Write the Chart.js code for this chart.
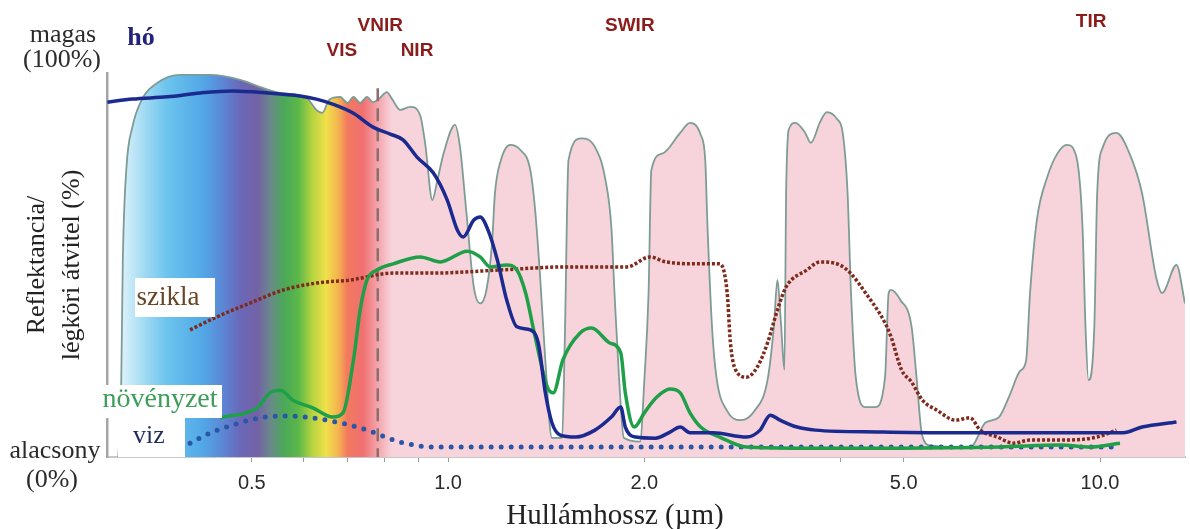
<!DOCTYPE html>
<html>
<head>
<meta charset="utf-8">
<title>Reflektancia és légköri átvitel</title>
<script src="https://cdn.jsdelivr.net/npm/chart.js@4.4.1/dist/chart.umd.min.js"></script>
<style>
    html, body { margin: 0; padding: 0; background: #fff; }
</style>
</head>
<body>
<canvas id="spectrumChart" width="1190" height="529"></canvas>
<script>
// wavelengths in µm, values in % (0 = alacsony, 100 = magas)
var atmWave = [0.312, 0.315, 0.317, 0.321, 0.328, 0.339, 0.358, 0.388, 0.432, 0.48, 0.514, 0.553, 0.607, 0.628, 0.641, 0.657,
    0.683, 0.701, 0.716, 0.733, 0.751, 0.767, 0.786, 0.805, 0.822, 0.844, 0.875, 0.906, 0.922, 0.946, 0.96, 0.984, 1.025,
    1.043, 1.066, 1.095, 1.12, 1.145, 1.168, 1.18, 1.205, 1.245, 1.29, 1.337, 1.36, 1.384, 1.41, 1.443, 1.496, 1.51, 1.53,
    1.6, 1.68, 1.74, 1.78, 1.8, 1.83, 1.86, 1.97, 2.0, 2.03, 2.05, 2.13, 2.27, 2.35, 2.44, 2.48, 2.5, 2.54, 2.58, 2.68,
    2.81, 2.95, 3.09, 3.16, 3.2, 3.24, 3.28, 3.3, 3.33, 3.41, 3.53, 3.6, 3.72, 3.81, 3.95, 4.03, 4.1, 4.15, 4.22, 4.37,
    4.52, 4.68, 4.74, 4.78, 4.94, 5.14, 5.23, 5.33, 5.49, 6.32, 6.67, 7.0, 7.28, 7.54, 7.7, 7.81, 8.0, 8.3, 8.6, 8.9,
    9.2, 9.4, 9.5, 9.6, 9.8, 9.9, 10.1, 10.6, 11.1, 11.6, 12.2, 12.45, 13.1, 13.5];
var atmTrans = [0, 15, 51, 75, 86, 93, 97.4, 99.5, 99.5, 98.2, 96.4, 94.8, 93.5, 90.4, 89.6, 93,
    93.8, 92.2, 93.8, 92.2, 93.8, 92.4, 93.5, 95, 93, 90.4, 91.2, 89, 81.8, 66.9, 71, 79, 86.5,
    80.7, 64.3, 44.3, 40, 43.5, 55.7, 68.7, 77.3, 81.3, 80, 74.7, 64.3, 47, 25, 5, 5, 30, 77.3,
    83, 80.7, 72.9, 59.9, 42.7, 20, 5, 4, 20, 42.7, 74.7, 79, 84.4, 87, 83.9, 77.3, 59.9, 33.9, 20.8, 12,
    9.6, 12, 20, 33.9, 46.1, 35, 22.7, 68.7, 85.2, 87, 84.4, 81.8, 87.2, 89.8, 88, 84.4, 68.7, 42.7, 20.8, 13,
    13, 20.8, 42.7, 43.5, 40.9, 33.9, 20.8, 6, 3, 2.5, 8.9, 10.4, 16.4, 22.4, 25, 42.7, 61.7, 72.9, 79, 81.3,
    78.1, 59.9, 33.9, 20, 33.9, 68.7, 80.7, 84.4, 79, 68.7, 46.6, 42.7, 50, 40];

var snowWave = [0.3, 0.328, 0.371, 0.417, 0.467, 0.528, 0.593, 0.628, 0.665, 0.716, 0.767, 0.815, 0.853, 0.896, 0.949,
    0.997, 1.034, 1.055, 1.095, 1.12, 1.152, 1.19, 1.23, 1.275, 1.337, 1.375, 1.41, 1.443, 1.486, 1.57, 1.68, 1.78,
    1.84, 1.87, 1.94, 2.08, 2.19, 2.27, 2.35, 2.55, 2.87, 3.01, 3.12, 3.23, 3.43, 3.66, 4.6, 5.69, 10.0, 10.85, 11.6, 13.1];
var snowRefl = [92.4, 93.2, 93.8, 94.8, 95.3, 94.8, 94, 93.2, 91.9, 89.5, 85.9, 84.1, 82.6, 78.1, 74,
    66.9, 59, 57.3, 61.7, 62.5, 59, 51.3, 40.9, 33.9, 33.1, 29.7, 16.7, 8.9, 5.7, 5.2, 7, 10.4,
    13, 7.8, 5.2, 4.9, 6.5, 7.8, 6.3, 6.3, 5.2, 7, 10.9, 9.6, 7.8, 7, 6.5, 6.3, 6.3, 6.3, 7.8, 9.1];

var rockWave = [0.402, 0.442, 0.497, 0.559, 0.628, 0.708, 0.824, 0.949, 1.202, 1.51, 1.88, 2.04, 2.16, 2.44, 2.61,
    2.68, 2.71, 2.76, 2.87, 2.98, 3.09, 3.2, 3.3, 3.55, 3.72, 3.99, 4.14, 4.37, 4.68, 4.78, 4.96, 5.14, 5.34, 5.62,
    6.0, 6.32, 6.55, 6.96, 7.36, 7.81, 8.8, 9.9, 10.6];
var rockRefl = [33.1, 36.5, 40.1, 43.5, 45.3, 46.1, 47.9, 47.9, 48.7, 49.5, 49.5, 52.1, 50.8, 50.3, 50.3,
    42.7, 29.9, 22.7, 20.8, 23.4, 29.7, 38.3, 44.3, 48.7, 50.8, 50, 47.9, 42.7, 34.9, 31.3, 22.7, 19.5, 14.8, 12.2,
    9.6, 10.2, 7, 5.2, 3.6, 4.4, 4.4, 5.2, 7];

var vegWave = [0.447, 0.511, 0.533, 0.553, 0.578, 0.62, 0.665, 0.69, 0.716, 0.733, 0.751, 0.778, 0.824, 0.906, 0.973,
    1.07, 1.12, 1.16, 1.23, 1.275, 1.315, 1.36, 1.42, 1.45, 1.5, 1.594, 1.66, 1.77, 1.84, 1.87, 1.93, 2.0, 2.09,
    2.19, 2.27, 2.35, 2.44, 2.61, 2.87, 3.47, 4.94, 7.03, 8.7, 9.66, 10.73];
var vegRefl = [10.2, 13, 16.7, 17.4, 14.8, 12.8, 10.4, 11.5, 25.3, 38.3, 46.1, 48.7, 50.3, 52.1, 50.8,
    53.6, 52.1, 49.5, 50, 48.7, 42.7, 31.3, 18.2, 16.7, 25.3, 32.3, 33.6, 29.7, 27.1, 16.7, 7.8, 11.5, 15.6,
    17.7, 16.7, 11.5, 7.8, 5.2, 2.6, 2.3, 2.3, 2.6, 3.1, 2.6, 3.6];

var waterWave = [0.402, 0.432, 0.467, 0.514, 0.566, 0.62, 0.683, 0.751, 0.844, 0.949, 1.2, 2.44, 4.94, 10.7];
var waterRefl = [3.6, 6.3, 8.3, 10.2, 10.7, 10.2, 8.9, 7, 3.9, 2.6, 2.6, 2.6, 2.6, 2.6];

var tickMarks = [0.5, 0.6, 0.7, 0.8, 0.9, 1, 2, 4, 5, 10];
var tickLabels = [0.5, 1, 2, 5, 10];
var visNirBoundary = 0.78;

var bandLabels = [
    { text: 'VNIR', wave: 0.787, y: 26 },
    { text: 'VIS', wave: 0.687, y: 51 },
    { text: 'NIR', wave: 0.896, y: 51 },
    { text: 'SWIR', wave: 1.9, y: 26 },
    { text: 'TIR', wave: 9.69, y: 22 }
];

var serif = '"Liberation Serif", "Times New Roman", serif';
var sans = '"Liberation Sans", Arial, sans-serif';
var pinkFill = '#f7d3db';

// colour stops of the visible spectrum band (µm -> colour)
var spectrumStops = [
    [0.312, '#e6f5fc'], [0.34, '#a6dcf3'], [0.37, '#6cc4ee'], [0.42, '#52a8e6'], [0.45, '#5b88d6'],
    [0.48, '#6a68b8'], [0.51, '#7462a6'], [0.535, '#6a8a8a'], [0.56, '#4aa858'], [0.59, '#5cb848'],
    [0.62, '#b8d440'], [0.65, '#f0e04a'], [0.68, '#f4b050'], [0.70, '#f27a5e'], [0.74, '#f07070'],
    [0.78, '#f4a4ac'], [0.82, pinkFill]
];

function toPoints(xs, ys) {
    return xs.map(function (x, i) { return { x: x, y: ys[i] }; });
}

function atmFill(context) {
    var chart = context.chart;
    var area = chart.chartArea;
    if (!area || !chart.scales.x) return pinkFill;
    var xs = chart.scales.x;
    var g = chart.ctx.createLinearGradient(area.left, 0, area.right, 0);
    spectrumStops.forEach(function (s) {
        var f = (xs.getPixelForValue(s[0]) - area.left) / (area.right - area.left);
        g.addColorStop(Math.min(1, Math.max(0, f)), s[1]);
    });
    g.addColorStop(1, pinkFill);
    return g;
}

function labelBox(ctx, text, box, baseX, baseY, font, color) {
    ctx.fillStyle = '#fff';
    ctx.fillRect(box[0], box[1], box[2], box[3]);
    ctx.font = font;
    ctx.fillStyle = color;
    ctx.textAlign = 'center';
    ctx.textBaseline = 'alphabetic';
    ctx.fillText(text, baseX, baseY);
}

var annotations = {
    id: 'annotations',
    afterDatasetDraw: function (chart, args) {
        if (args.index !== 4) return;
        var ctx = chart.ctx, x = chart.scales.x, y = chart.scales.y;
        var px = x.getPixelForValue(visNirBoundary);
        ctx.save();
        ctx.strokeStyle = '#8d6d6d';
        ctx.lineWidth = 2.5;
        ctx.setLineDash([13, 7]);
        ctx.beginPath();
        ctx.moveTo(px, y.getPixelForValue(96));
        ctx.lineTo(px, y.bottom);
        ctx.stroke();
        ctx.restore();
    },
    afterDraw: function (chart) {
        var ctx = chart.ctx, x = chart.scales.x, y = chart.scales.y;
        var top = y.getPixelForValue(100), bottom = y.getPixelForValue(0);
        ctx.save();

        // ends of the reflectance scale
        ctx.font = '26px ' + serif;
        ctx.fillStyle = '#2b2b2b';
        ctx.textAlign = 'center';
        ctx.textBaseline = 'alphabetic';
        ctx.fillText('magas', 63, top - 31);
        ctx.fillText('(100%)', 62, top - 6);
        ctx.fillText('alacsony', 55, bottom + 1);
        ctx.fillText('(0%)', 52, bottom + 30);

        // spectral regions
        ctx.font = 'bold 19px ' + sans;
        ctx.fillStyle = '#8b1c1c';
        ctx.textBaseline = 'middle';
        bandLabels.forEach(function (b) {
            ctx.fillText(b.text, x.getPixelForValue(b.wave), b.y);
        });

        // curve names
        ctx.font = 'bold 26px ' + serif;
        ctx.fillStyle = '#22237c';
        ctx.textBaseline = 'alphabetic';
        ctx.fillText('hó', 141, 45);

        labelBox(ctx, 'szikla', [135, 278, 80, 39], 168, 305, '27px ' + serif, '#6b4626');
        labelBox(ctx, 'növényzet', [95, 385, 127, 33], 160, 407, '28px ' + serif, '#3c9e58');
        labelBox(ctx, 'viz', [118, 418, 67, 39], 149, 443, '26px ' + serif, '#1e2c5a');

        // x axis title
        ctx.font = '29px ' + serif;
        ctx.fillStyle = '#222';
        ctx.fillText('Hullámhossz (µm)', 615, 524);
        ctx.restore();
    }
};

var lineDefaults = { pointRadius: 0, cubicInterpolationMode: 'monotone', fill: false };

var spectrumChart = new Chart(document.getElementById('spectrumChart'), {
    type: 'line',
    data: {
        datasets: [
            Object.assign({ label: 'hó', data: toPoints(snowWave, snowRefl), borderColor: '#1b2a8e', borderWidth: 3.5, order: 1 }, lineDefaults),
            Object.assign({ label: 'növényzet', data: toPoints(vegWave, vegRefl), borderColor: '#1fa048', borderWidth: 3.5, order: 2 }, lineDefaults),
            Object.assign({ label: 'szikla', data: toPoints(rockWave, rockRefl), borderColor: '#7e2a1c', borderWidth: 3.5, borderDash: [3, 2], order: 3 }, lineDefaults),
            Object.assign({ label: 'viz', data: toPoints(waterWave, waterRefl), borderColor: '#2a56a8', borderWidth: 5, borderDash: [0, 10], borderCapStyle: 'round', order: 4 }, lineDefaults),
            { label: 'légköri átvitel', data: toPoints(atmWave, atmTrans), borderColor: '#7d9c95', borderWidth: 1.8,
              backgroundColor: atmFill, fill: 'origin', pointRadius: 0, cubicInterpolationMode: 'monotone', order: 5 }
        ]
    },
    options: {
        responsive: false,
        animation: false,
        layout: { padding: { left: 10, top: 73, right: 5, bottom: 25 } },
        plugins: { legend: { display: false }, tooltip: { enabled: false } },
        scales: {
            x: {
                type: 'logarithmic',
                min: 0.3,
                max: 13.5,
                afterBuildTicks: function (scale) {
                    scale.ticks = tickMarks.map(function (v) { return { value: v }; });
                },
                ticks: {
                    autoSkip: false,
                    maxRotation: 0,
                    padding: 9,
                    color: '#2a2a2a',
                    font: { family: sans, size: 20 },
                    callback: function (v) { return tickLabels.indexOf(v) >= 0 ? v.toFixed(1) : ''; }
                },
                grid: { drawOnChartArea: false, drawTicks: true, tickLength: 5, color: '#999' },
                border: { display: true, color: '#c8c8c8', width: 2 }
            },
            y: {
                min: 0,
                max: 100,
                ticks: { display: false },
                grid: { display: false, drawTicks: false },
                border: { display: true, color: '#a5a5a5', width: 2.5 },
                title: {
                    display: true,
                    text: ['Reflektancia/', 'légköri átvitel (%)'],
                    color: '#222',
                    font: { family: serif, size: 26, lineHeight: 1.35 },
                    padding: { top: 10, bottom: 17 }
                }
            }
        }
    },
    plugins: [annotations]
});
</script>
</body>
</html>
